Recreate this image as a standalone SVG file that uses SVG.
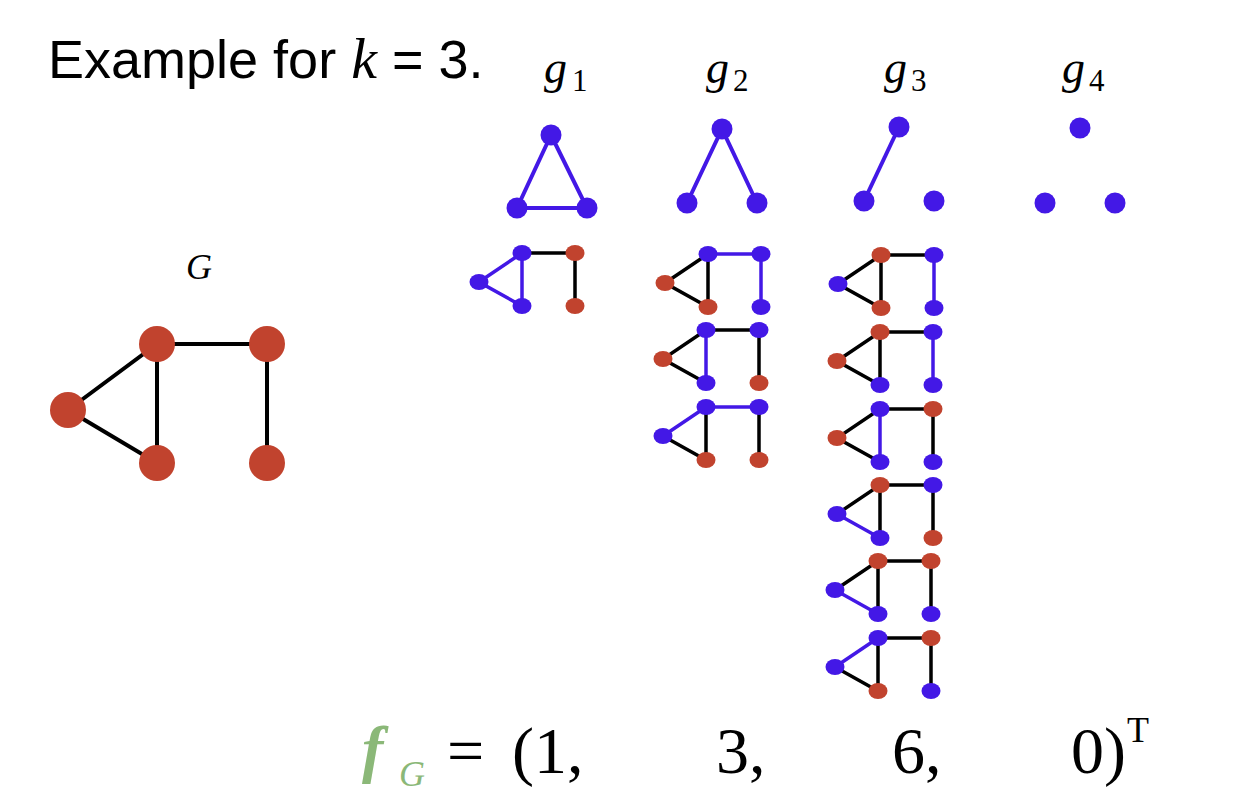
<svg xmlns="http://www.w3.org/2000/svg" width="1244" height="802" viewBox="0 0 1244 802">
<style>
.r{fill:#C1432E}
.b{fill:#4318E6}
.e{stroke:#000;stroke-width:3.5;fill:none}
.eb{stroke:#4318E6;stroke-width:3.5;fill:none}
.E{stroke:#000;stroke-width:4;fill:none}
.EB{stroke:#4318E6;stroke-width:4;fill:none}
.sans{font-family:"Liberation Sans",Arial,sans-serif}
.ser{font-family:"Liberation Serif","Times New Roman",serif}
.it{font-style:italic}
</style>
<rect width="1244" height="802" fill="#fff"/>

<g id="title">
<text class="sans" x="48" y="78" font-size="54" fill="#000">Example for <tspan class="ser it" font-size="58">k</tspan> = 3.</text>
</g>

<g id="labels" class="ser" fill="#000">
<text class="it" x="544" y="83" font-size="46">g</text><text x="572" y="91" font-size="31">1</text>
<text class="it" x="706" y="83" font-size="46">g</text><text x="733" y="91" font-size="31">2</text>
<text class="it" x="884" y="83" font-size="46">g</text><text x="911" y="91" font-size="31">3</text>
<text class="it" x="1062" y="83" font-size="46">g</text><text x="1089" y="91" font-size="31">4</text>
<text class="it" x="186" y="279" font-size="36">G</text>
</g>

<!-- graphlets -->
<g id="g1">
<path class="EB" d="M551,135 L517,208 L587,208 Z"/>
<circle class="b" cx="551" cy="135" r="10.5"/>
<circle class="b" cx="517" cy="208" r="10.5"/>
<circle class="b" cx="587" cy="208" r="10.5"/>
</g>
<g id="g2">
<path class="EB" d="M687,203 L722,129 L757,203"/>
<circle class="b" cx="722" cy="129" r="10.5"/>
<circle class="b" cx="687" cy="203" r="10.5"/>
<circle class="b" cx="757" cy="203" r="10.5"/>
</g>
<g id="g3">
<path class="EB" d="M899,127 L864,201"/>
<circle class="b" cx="899" cy="127" r="10.5"/>
<circle class="b" cx="864" cy="201" r="10.5"/>
<circle class="b" cx="934" cy="201" r="10.5"/>
</g>
<g id="g4">
<circle class="b" cx="1080" cy="128" r="10.5"/>
<circle class="b" cx="1045" cy="203" r="10.5"/>
<circle class="b" cx="1115" cy="203" r="10.5"/>
</g>

<!-- big graph G -->
<g id="G-edges">
<path class="E" d="M68,410 L157,344 L157,463 Z M157,344 L267,344 L267,463"/>
</g>
<g id="G-nodes">
<circle class="r" cx="68" cy="410" r="18"/>
<circle class="r" cx="157" cy="344" r="18"/>
<circle class="r" cx="157" cy="463" r="18"/>
<circle class="r" cx="267" cy="344" r="18"/>
<circle class="r" cx="267" cy="463" r="18"/>
</g>

<!-- instances: L(0,0) TM(43,-29) BM(43,24) TR(96,-29) BR(96,24) -->
<g id="inst-g1-1" transform="translate(479,282)">
<path class="e" d="M43,-29 L96,-29 L96,24"/>
<path class="eb" d="M0,0 L43,-29 L43,24 Z"/>
<ellipse class="b" cx="0" cy="0" rx="9.5" ry="8"/>
<ellipse class="b" cx="43" cy="-29" rx="9.5" ry="8"/>
<ellipse class="b" cx="43" cy="24" rx="9.5" ry="8"/>
<ellipse class="r" cx="96" cy="-29" rx="9.5" ry="8"/>
<ellipse class="r" cx="96" cy="24" rx="9.5" ry="8"/>
</g>

<g id="inst-g2-1" transform="translate(665,283)">
<path class="e" d="M0,0 L43,-29 L43,24 Z"/>
<path class="eb" d="M43,-29 L96,-29 L96,24"/>
<ellipse class="r" cx="0" cy="0" rx="9.5" ry="8"/>
<ellipse class="b" cx="43" cy="-29" rx="9.5" ry="8"/>
<ellipse class="r" cx="43" cy="24" rx="9.5" ry="8"/>
<ellipse class="b" cx="96" cy="-29" rx="9.5" ry="8"/>
<ellipse class="b" cx="96" cy="24" rx="9.5" ry="8"/>
</g>
<g id="inst-g2-2" transform="translate(663,359)">
<path class="e" d="M43,24 L0,0 L43,-29 L96,-29 L96,24"/>
<path class="eb" d="M43,-29 L43,24"/>
<ellipse class="r" cx="0" cy="0" rx="9.5" ry="8"/>
<ellipse class="b" cx="43" cy="-29" rx="9.5" ry="8"/>
<ellipse class="b" cx="43" cy="24" rx="9.5" ry="8"/>
<ellipse class="b" cx="96" cy="-29" rx="9.5" ry="8"/>
<ellipse class="r" cx="96" cy="24" rx="9.5" ry="8"/>
</g>
<g id="inst-g2-3" transform="translate(663,436)">
<path class="e" d="M0,0 L43,24 L43,-29 M96,-29 L96,24"/>
<path class="eb" d="M0,0 L43,-29 L96,-29"/>
<ellipse class="b" cx="0" cy="0" rx="9.5" ry="8"/>
<ellipse class="b" cx="43" cy="-29" rx="9.5" ry="8"/>
<ellipse class="r" cx="43" cy="24" rx="9.5" ry="8"/>
<ellipse class="b" cx="96" cy="-29" rx="9.5" ry="8"/>
<ellipse class="r" cx="96" cy="24" rx="9.5" ry="8"/>
</g>

<g id="inst-g3-1" transform="translate(838,284)">
<path class="e" d="M0,0 L43,-29 L43,24 Z M43,-29 L96,-29"/>
<path class="eb" d="M96,-29 L96,24"/>
<ellipse class="b" cx="0" cy="0" rx="9.5" ry="8"/>
<ellipse class="r" cx="43" cy="-29" rx="9.5" ry="8"/>
<ellipse class="r" cx="43" cy="24" rx="9.5" ry="8"/>
<ellipse class="b" cx="96" cy="-29" rx="9.5" ry="8"/>
<ellipse class="b" cx="96" cy="24" rx="9.5" ry="8"/>
</g>
<g id="inst-g3-2" transform="translate(837,361)">
<path class="e" d="M0,0 L43,-29 L43,24 Z M43,-29 L96,-29"/>
<path class="eb" d="M96,-29 L96,24"/>
<ellipse class="r" cx="0" cy="0" rx="9.5" ry="8"/>
<ellipse class="r" cx="43" cy="-29" rx="9.5" ry="8"/>
<ellipse class="b" cx="43" cy="24" rx="9.5" ry="8"/>
<ellipse class="b" cx="96" cy="-29" rx="9.5" ry="8"/>
<ellipse class="b" cx="96" cy="24" rx="9.5" ry="8"/>
</g>
<g id="inst-g3-3" transform="translate(837,438)">
<path class="e" d="M43,24 L0,0 L43,-29 L96,-29 L96,24"/>
<path class="eb" d="M43,-29 L43,24"/>
<ellipse class="r" cx="0" cy="0" rx="9.5" ry="8"/>
<ellipse class="b" cx="43" cy="-29" rx="9.5" ry="8"/>
<ellipse class="b" cx="43" cy="24" rx="9.5" ry="8"/>
<ellipse class="r" cx="96" cy="-29" rx="9.5" ry="8"/>
<ellipse class="b" cx="96" cy="24" rx="9.5" ry="8"/>
</g>
<g id="inst-g3-4" transform="translate(837,514)">
<path class="e" d="M0,0 L43,-29 L43,24 M43,-29 L96,-29 L96,24"/>
<path class="eb" d="M0,0 L43,24"/>
<ellipse class="b" cx="0" cy="0" rx="9.5" ry="8"/>
<ellipse class="r" cx="43" cy="-29" rx="9.5" ry="8"/>
<ellipse class="b" cx="43" cy="24" rx="9.5" ry="8"/>
<ellipse class="b" cx="96" cy="-29" rx="9.5" ry="8"/>
<ellipse class="r" cx="96" cy="24" rx="9.5" ry="8"/>
</g>
<g id="inst-g3-5" transform="translate(835,590)">
<path class="e" d="M0,0 L43,-29 L43,24 M43,-29 L96,-29 L96,24"/>
<path class="eb" d="M0,0 L43,24"/>
<ellipse class="b" cx="0" cy="0" rx="9.5" ry="8"/>
<ellipse class="r" cx="43" cy="-29" rx="9.5" ry="8"/>
<ellipse class="b" cx="43" cy="24" rx="9.5" ry="8"/>
<ellipse class="r" cx="96" cy="-29" rx="9.5" ry="8"/>
<ellipse class="b" cx="96" cy="24" rx="9.5" ry="8"/>
</g>
<g id="inst-g3-6" transform="translate(835,667)">
<path class="e" d="M0,0 L43,24 L43,-29 L96,-29 L96,24"/>
<path class="eb" d="M0,0 L43,-29"/>
<ellipse class="b" cx="0" cy="0" rx="9.5" ry="8"/>
<ellipse class="b" cx="43" cy="-29" rx="9.5" ry="8"/>
<ellipse class="r" cx="43" cy="24" rx="9.5" ry="8"/>
<ellipse class="r" cx="96" cy="-29" rx="9.5" ry="8"/>
<ellipse class="b" cx="96" cy="24" rx="9.5" ry="8"/>
</g>

<g id="formula" class="ser" fill="#000">
<text x="362" y="770" font-size="64" font-weight="bold" font-style="italic" fill="#8BB878">f</text>
<text x="399" y="786" font-size="36" font-style="italic" fill="#8BB878">G</text>
<text x="447" y="773" font-size="66">=</text>
<text x="512" y="773" font-size="66">(1,</text>
<text x="716" y="773" font-size="66">3,</text>
<text x="892" y="773" font-size="66">6,</text>
<text x="1071" y="773" font-size="66">0)</text>
<text x="1127" y="742" font-size="36">T</text>
</g>
</svg>
